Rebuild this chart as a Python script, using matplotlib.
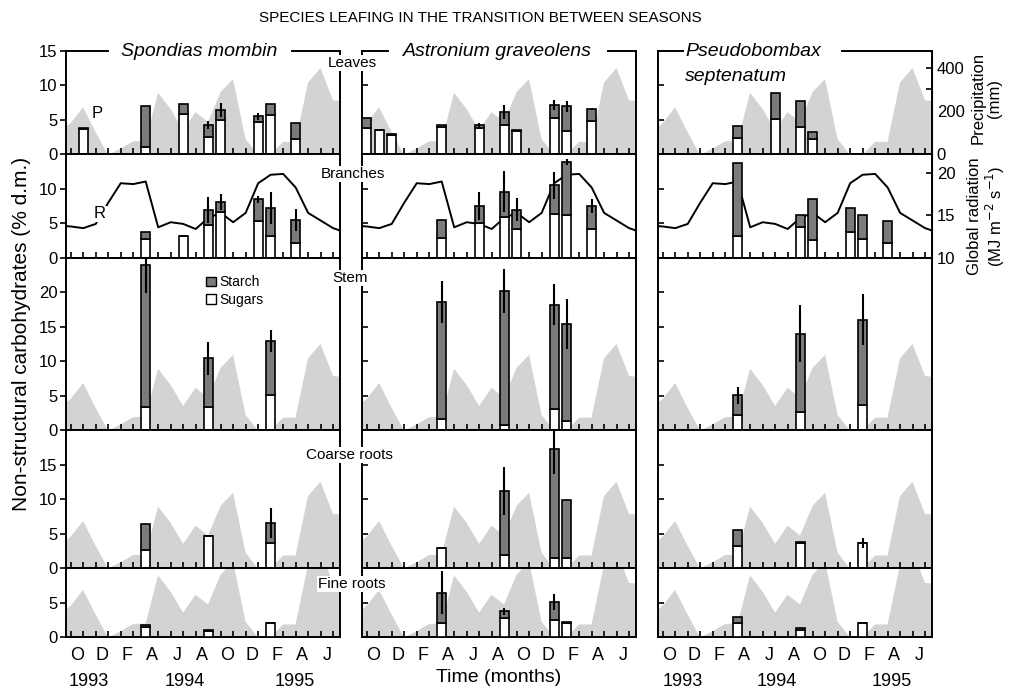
import numpy as np
import matplotlib
matplotlib.use('Agg')
import matplotlib.pyplot as plt
from matplotlib.patches import Patch

plt.rcParams['font.family'] = ['Liberation Sans', 'DejaVu Sans']

# ---- data (% dry mass) ----
# rows: month position, sugars, total (sugars + starch), sd
sm_leaves = [(1.5, 3.7, 3.8, 0), (6.5, 1.1, 7.0, 0), (9.5, 5.8, 7.3, 0), (11.5, 2.5, 4.3, 0.6),
             (12.5, 5.0, 6.4, 1.0), (15.5, 4.7, 5.5, 0.5), (16.5, 5.7, 7.3, 0), (18.5, 2.2, 4.5, 0)]
sm_branches = [(6.5, 2.8, 3.7, 0), (9.5, 3.2, 3.2, 0), (11.5, 4.8, 6.9, 1.9), (12.5, 6.6, 8.1, 1.2),
               (15.5, 5.3, 8.5, 0.5), (16.5, 3.1, 7.2, 2.3), (18.5, 2.1, 5.5, 1.6)]
sm_stem = [(6.5, 3.3, 23.9, 4.0), (11.5, 3.3, 10.4, 2.4), (16.5, 5.1, 13.0, 1.6)]
sm_coarse = [(6.5, 2.6, 6.35, 0), (11.5, 4.6, 4.6, 0), (16.5, 3.6, 6.5, 2.2)]
sm_fine = [(6.5, 1.5, 1.8, 0), (11.5, 0.8, 1.0, 0), (16.5, 2.0, 2.1, 0)]

ag_leaves = [(0.5, 3.9, 5.3, 0), (1.5, 3.5, 3.6, 0), (2.5, 2.8, 3.0, 0), (6.5, 4.0, 4.3, 0),
             (9.5, 3.9, 4.3, 0.3), (11.5, 4.3, 6.1, 1.0), (12.5, 3.4, 3.6, 0), (15.5, 5.25, 7.2, 0.7),
             (16.5, 3.4, 7.0, 0.8), (18.5, 4.85, 6.6, 0.2)]
ag_branches = [(6.5, 2.85, 5.5, 0), (9.5, 5.0, 7.5, 2.0), (11.5, 5.85, 9.6, 3.0), (12.5, 4.15, 7.0, 1.7),
               (15.5, 6.4, 10.5, 1.9), (16.5, 6.2, 13.9, 0.5), (18.5, 4.15, 7.5, 1.0)]
ag_stem = [(6.5, 1.55, 18.6, 3.1), (11.5, 0.8, 20.2, 3.2), (15.5, 3.0, 18.2, 3.0), (16.5, 1.3, 15.4, 3.6)]
ag_coarse = [(6.5, 2.95, 2.95, 0), (11.5, 1.9, 11.2, 3.5), (15.5, 1.4, 17.3, 3.7), (16.5, 1.4, 9.9, 0)]
ag_fine = [(6.5, 2.1, 6.4, 3.1), (11.5, 2.7, 3.7, 0.5), (15.5, 2.5, 5.1, 1.2), (16.5, 2.0, 2.2, 0)]

ps_leaves = [(6.5, 2.4, 4.1, 0), (9.5, 5.1, 8.9, 0), (11.5, 4.0, 7.7, 0), (12.5, 2.3, 3.3, 0)]
ps_branches = [(6.5, 3.2, 13.7, 0), (11.5, 4.4, 6.2, 0), (12.5, 2.6, 8.5, 0), (15.5, 3.8, 7.2, 0),
               (16.5, 2.8, 6.2, 0), (18.5, 2.1, 5.4, 0)]
ps_stem = [(6.5, 2.2, 5.05, 1.2), (11.5, 2.6, 14.0, 4.1), (16.5, 3.6, 16.0, 3.7)]
ps_coarse = [(6.5, 3.2, 5.5, 0), (11.5, 3.6, 3.8, 0), (16.5, 3.6, 3.6, 0.7)]
ps_fine = [(6.5, 2.1, 2.85, 0), (11.5, 1.0, 1.35, 0), (16.5, 2.0, 2.0, 0)]

# monthly climate, Aug 1993 .. Jul 1995
rain_mm = [102, 146, 219, 105, 0, 29, 62, 64, 286, 211, 114, 197, 152, 289, 349, 73,
           0, 0, 60, 60, 333, 400, 251, 248]
radiation = [13.8, 13.7, 13.5, 14.0, 16.5, 18.8, 18.7, 19.0, 13.6, 14.2, 14.0, 13.4, 14.7,
             15.3, 14.2, 15.3, 18.8, 19.8, 19.9, 18.3, 15.3, 14.4, 13.5, 13.0]

month_labels = ['O', 'D', 'F', 'A', 'J', 'A', 'O', 'D', 'F', 'A', 'J']
species = ['Spondias mombin', 'Astronium graveolens', 'Pseudobombax\nseptenatum']
organs = ['Leaves', 'Branches', 'Stem', 'Coarse roots', 'Fine roots']
panels = [[sm_leaves, sm_branches, sm_stem, sm_coarse, sm_fine],
          [ag_leaves, ag_branches, ag_stem, ag_coarse, ag_fine],
          [ps_leaves, ps_branches, ps_stem, ps_coarse, ps_fine]]

# scales of the climate curves in carbohydrate units
MM_PER_UNIT = 31.75
RAD_LO, RAD_HI = 10.0, 22.2

W, H = 1016, 696
fig = plt.figure(figsize=(W / 100, H / 100), dpi=100)

col_x = [66, 362, 658]
col_w = 274
top_px = 51
ppu = 6.894
ymax = [15, 15, 25, 20, 10]

rain_t = np.arange(-1, 23) + 0.45
rain_u = np.array(rain_mm) / MM_PER_UNIT
rad_t = np.arange(-1, 23) + 0.5
rad_u = (np.array(radiation) - RAD_LO) / (RAD_HI - RAD_LO) * 15

STARCH = '#7b7b7b'
RAIN = '#d3d3d3'

axes = {}
for c in range(3):
    y0 = top_px
    for r in range(5):
        h = ymax[r] * ppu
        ax = fig.add_axes([col_x[c] / W, 1 - (y0 + h) / H, col_w / W, h / H])
        y0 += h
        axes[(c, r)] = ax
        rows = panels[c][r]
        t = np.array([p[0] for p in rows])
        sug = np.array([p[1] for p in rows])
        tot = np.array([p[2] for p in rows])
        sd = np.array([p[3] for p in rows])

        if r == 1:
            ax.plot(rad_t, rad_u, color='black', lw=1.4, zorder=2)
        else:
            ax.fill_between(rain_t, rain_u, color=RAIN, lw=0, zorder=1)

        ax.bar(t, sug, width=0.72, color='white', edgecolor='black', lw=1.2, zorder=3)
        ax.bar(t, tot - sug, bottom=sug, width=0.72, color=STARCH, edgecolor='black', lw=1.2, zorder=3)
        m = sd > 0
        ax.vlines(t[m], (tot - sd)[m], (tot + sd)[m], color='black', lw=1.5, zorder=4)

        ax.set_xlim(0.12, 22.05)
        ax.set_ylim(0, ymax[r])
        for s in ax.spines.values():
            s.set_linewidth(1.4)

        ax.set_xticks(np.arange(0.5, 22, 1), minor=True)
        ax.tick_params(axis='x', which='minor', direction='in', length=4, width=1.2)
        ax.set_xticks(np.arange(1, 22, 2))
        if r == 4:
            ax.set_xticklabels(month_labels, fontsize=13)
        else:
            ax.set_xticklabels([])
        ax.tick_params(axis='x', which='major', length=0, pad=7)

        yt = np.arange(0, ymax[r] + 1, 5) if r == 0 else np.arange(0, ymax[r], 5)
        ax.set_yticks(yt)
        if c == 0:
            ax.set_yticklabels([str(v) for v in yt], fontsize=12)
            ax.tick_params(axis='y', direction='out', length=4, width=1.2, pad=2)
        else:
            ax.set_yticklabels([])
            ax.tick_params(axis='y', direction='in', length=4, width=1.2)

        if r == 0:
            ax.spines['top'].set_visible(False)

# species titles breaking the top frame line
def frame_line(ax, a, b):
    ax.plot([a, b], [1, 1], color='black', lw=1.4, transform=ax.transAxes, clip_on=False)

ax = axes[(0, 0)]
frame_line(ax, 0, 0.153)
frame_line(ax, 0.824, 1)
ax.text(0.487, 1.0, species[0], transform=ax.transAxes, ha='center', va='center',
        style='italic', fontsize=14)
ax.text(2.6, 5.9, 'P', ha='center', va='center', fontsize=12)

ax = axes[(1, 0)]
frame_line(ax, 0, 0.096)
frame_line(ax, 0.899, 1)
ax.text(0.495, 1.0, species[1], transform=ax.transAxes, ha='center', va='center',
        style='italic', fontsize=14)

ax = axes[(2, 0)]
frame_line(ax, 0, 0.09)
frame_line(ax, 0.67, 1)
ax.text(0.1, 1.0, 'Pseudobombax', transform=ax.transAxes, ha='left', va='center',
        style='italic', fontsize=14)
ax.text(0.1, 0.75, 'septenatum', transform=ax.transAxes, ha='left', va='center',
        style='italic', fontsize=14)

axes[(0, 1)].text(2.84, 6.4, 'R', ha='center', va='center', fontsize=12, zorder=5,
                  bbox=dict(facecolor='white', edgecolor='none', pad=0.5))

# right-hand climate axes
sec = axes[(2, 0)].secondary_yaxis('right', functions=(lambda u: u * MM_PER_UNIT,
                                                       lambda mm: mm / MM_PER_UNIT))
sec.set_yticks([0, 200, 400])
sec.set_yticks([100, 300], minor=True)
sec.tick_params(which='both', direction='in', length=4, width=1.2, labelsize=12)
sec = axes[(2, 1)].secondary_yaxis('right', functions=(
    lambda u: RAD_LO + u * (RAD_HI - RAD_LO) / 15,
    lambda v: (v - RAD_LO) / (RAD_HI - RAD_LO) * 15))
sec.set_yticks([10, 15, 20])
sec.tick_params(direction='in', length=4, width=1.2, labelsize=12)

# legend in the Spondias stem panel
handles = [Patch(facecolor=STARCH, edgecolor='black', label='Starch'),
           Patch(facecolor='white', edgecolor='black', label='Sugars')]
axes[(0, 2)].legend(handles=handles, loc='upper left', bbox_to_anchor=(0.49, 0.93),
                    frameon=False, fontsize=10, handlelength=0.7, handleheight=0.7,
                    handletextpad=0.3, labelspacing=0.25, borderaxespad=0)

def ftext(x, y, s, **kw):
    fig.text(x / W, 1 - y / H, s, ha='center', va='center', **kw)

ftext(480, 18, 'SPECIES LEAFING IN THE TRANSITION BETWEEN SEASONS', fontsize=11)
ftext(22, 334, 'Non-structural carbohydrates (% d.m.)', rotation=90, fontsize=15)
ftext(986, 98, 'Precipitation\n(mm)', rotation=90, fontsize=12, linespacing=1.1)
ftext(987, 216, 'Global radiation\n(MJ m$^{-2}$ s$^{-1}$)', rotation=90, fontsize=12, linespacing=1.1)

label_pos = [(352, 63), (353, 174), (350, 278), (349, 455), (352, 584)]
for name, (x, y) in zip(organs, label_pos):
    ftext(x, y, name, fontsize=11, zorder=10,
          bbox=dict(facecolor='white', edgecolor='none', pad=1))

for x, s in [(89, '1993'), (185, '1994'), (295, '1995'),
             (683, '1993'), (777, '1994'), (892, '1995')]:
    ftext(x, 681, s, fontsize=13)
ftext(499, 677, 'Time (months)', fontsize=14)

fig.savefig('out.png', dpi=100)
